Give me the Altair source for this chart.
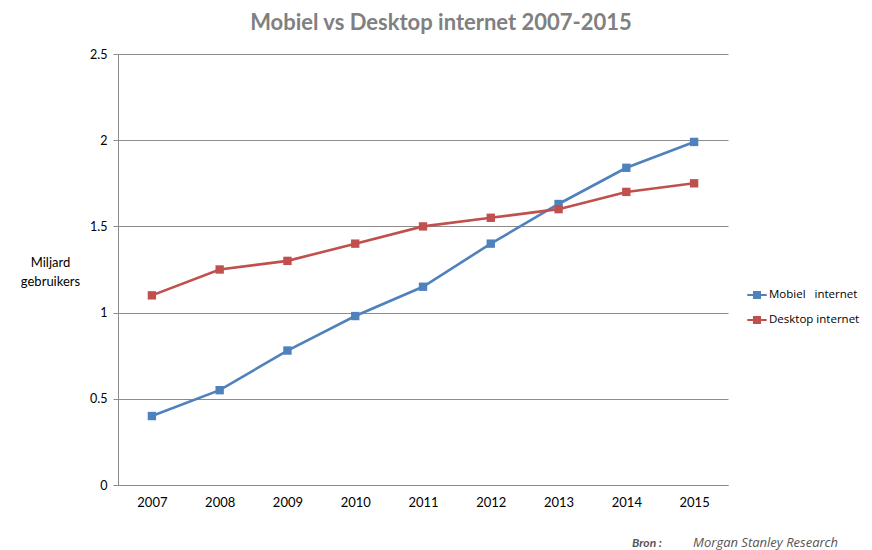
import altair as alt
import pandas as pd

years = ["2007", "2008", "2009", "2010", "2011", "2012", "2013", "2014", "2015"]
mobiel = [0.40, 0.55, 0.78, 0.98, 1.15, 1.40, 1.63, 1.84, 1.99]
desktop = [1.10, 1.25, 1.30, 1.40, 1.50, 1.55, 1.60, 1.70, 1.75]
series = ["Mobiel\u00a0\u00a0 internet", "Desktop internet"]
colors = ["#4F81BD", "#C0504D"]
y_ticks = [0, 0.5, 1, 1.5, 2, 2.5]
title_text = "Mobiel  vs Desktop internet 2007-2015"
y_title = ["Miljard", "gebruikers"]
source_label = ["Bron :"]
source_text = ["Morgan Stanley Research"]

df = pd.DataFrame({
    "jaar": years * 2,
    "waarde": mobiel + desktop,
    "serie": [series[0]] * len(years) + [series[1]] * len(years),
})

FONT = "Lato"
GRID = "#8c8c8c"

x = alt.X(
    "jaar:O",
    scale=alt.Scale(paddingOuter=0.5),
    axis=alt.Axis(title=None, labelAngle=0, ticks=False, domainColor=GRID,
                  labelFontSize=13, labelPadding=11, labelColor="#000000", labelFont=FONT),
)
y = alt.Y(
    "waarde:Q",
    scale=alt.Scale(domain=[0, 2.5]),
    axis=alt.Axis(values=y_ticks, format="~g", title=y_title, titleAngle=0,
                  titleX=-68, titleY=208, titleAlign="center", titleBaseline="middle",
                  titleLineHeight=19,
                  titleFontWeight="normal", titleFontSize=13, titleFont=FONT, titleColor="#000000",
                  gridColor=GRID, domainColor=GRID, tickColor=GRID, tickSize=5,
                  labelFontSize=12.5, labelFont=FONT, labelColor="#000000", labelPadding=6),
)
color = alt.Color(
    "serie:N",
    scale=alt.Scale(domain=series, range=colors),
    sort=series,
    legend=alt.Legend(title=None, orient="none", legendX=628, legendY=230,
                      symbolType="M-1,0L1,0M-0.3,-0.3h0.6v0.6h-0.6Z",
                      symbolSize=380, symbolStrokeWidth=2.2,
                      labelFont="Open Sans", labelFontSize=11.5, labelColor="#000000",
                      rowPadding=6, labelOffset=1, labelLimit=200),
)

base = alt.Chart(df)
lines = base.mark_line(strokeWidth=2.6).encode(x=x, y=y, color=color)
points = base.mark_point(shape="square", filled=True, size=70, opacity=1).encode(x=x, y=y, color=color)

src1 = alt.Chart(pd.DataFrame({"t": source_label})).mark_text(
    font=FONT, fontSize=12, fontStyle="italic", fontWeight="bold", color="#555555",
    align="left", baseline="middle"
).encode(text="t:N", x=alt.value(514), y=alt.value(489))
src2 = alt.Chart(pd.DataFrame({"t": source_text})).mark_text(
    font="Open Sans", fontSize=13, fontStyle="italic", color="#555555",
    align="right", baseline="middle"
).encode(text="t:N", x=alt.value(720), y=alt.value(489))

chart = alt.layer(lines, points, src1, src2).properties(
    width=610,
    height=431,
    padding={"left": 110, "top": 46, "right": 136, "bottom": 66},
    autosize=alt.AutoSizeParams(type="none"),
    title=alt.TitleParams(title_text, font=FONT, fontSize=22, fontWeight="bold",
                          color="#808080", anchor="middle", dx=18, offset=13),
).configure_view(stroke=None).configure_axisY(domainColor=GRID)

chart.save("out.html", embed_options={"renderer": "svg", "actions": False})
